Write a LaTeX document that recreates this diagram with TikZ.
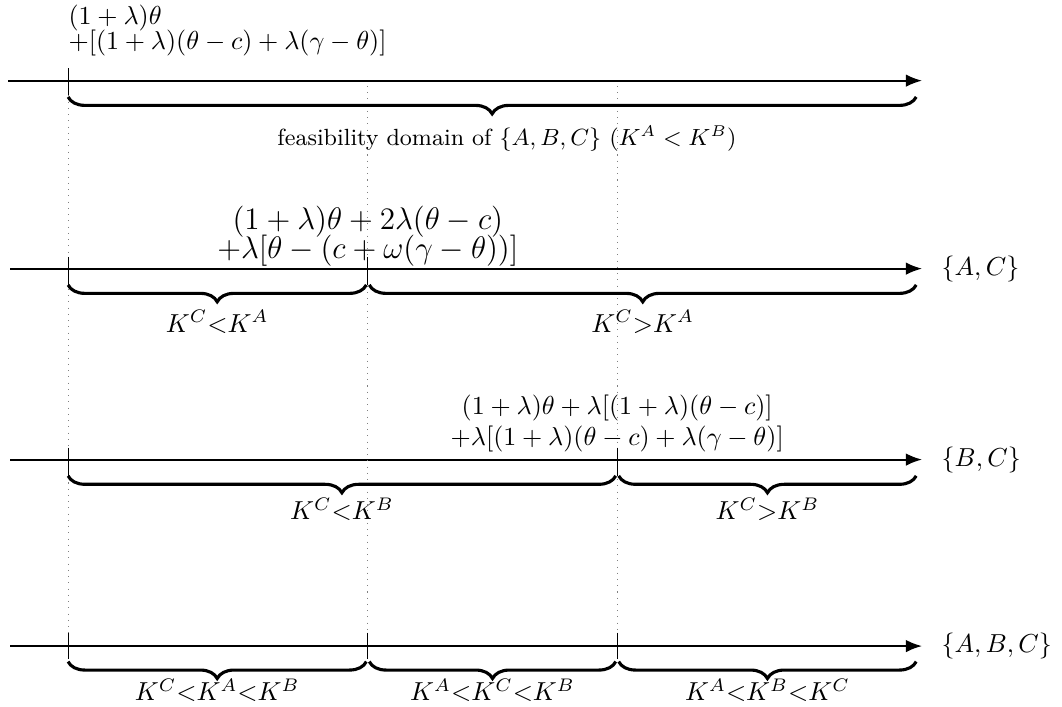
\documentclass[tikz,border=0pt]{standalone}
\usetikzlibrary{arrows.meta,decorations.pathreplacing,positioning,calc}

\begin{document}
\begin{tikzpicture}[
    axisline/.style={thick, -{Latex[length=2.2mm,width=1.7mm]}},
    tickmark/.style={thin},
    guide/.style={dotted, gray},
    bracedeco/.style={decorate, decoration={brace, mirror, amplitude=6.5pt}, very thick},
    bracelabel/.style={font=\normalsize},
    setlabel/.style={right=4pt, font=\normalsize},
    steplabel/.style={align=center, inner sep=0pt}
]
    \useasboundingbox (0,0) rectangle (14.35,9.54);

    % Axes
    \foreach \n/\y/\xs in {1/8.45/0.11, 2/5.91/0.14, 3/3.33/0.14, 4/0.81/0.14} {
        \coordinate (s\n) at (\xs,\y);
        \coordinate (e\n) at (12.46,\y);
        \draw[axisline] (s\n) -- (e\n);
    }

    % Dotted guides
    \draw[guide] (0.92,8.25) -- (0.92,0.98);
    \draw[guide] (4.97,8.38) -- (4.97,0.98);
    \draw[guide] (8.34,8.38) -- (8.34,0.98);

    % Ticks
    \draw[tickmark] (0.92,8.62) -- (0.92,8.25);
    \foreach \x in {0.92,4.97} \draw[tickmark] (\x,6.07) -- (\x,5.69);
    \foreach \x in {0.92,8.34} \draw[tickmark] (\x,3.49) -- (\x,3.11);
    \foreach \x in {0.92,4.97,8.34} \draw[tickmark] (\x,0.99) -- (\x,0.63);

    % Row 1: feasibility domain
    \node[steplabel, align=left, anchor=south west, font=\normalsize] (t1) at (0.92,8.78)
        {$(1+\lambda)\theta$\\[-2.5pt]$+[(1+\lambda)(\theta-c)+\lambda(\gamma-\theta)]$};
    \draw[bracedeco] (0.92,8.23) -- (12.38,8.23)
        node[midway, below=7pt, xshift=0.2cm, font=\small] (b1) {feasibility domain of $\{A,B,C\}$ ($K^A<K^B$)};

    % Row 2: {A,C}
    \node[setlabel] (l2) at (e2) {$\{A,C\}$};
    \node[steplabel, anchor=south, font=\fontsize{11.5}{13.8}\selectfont] (t2) at (4.97,5.93)
        {$(1+\lambda)\theta+2\lambda(\theta-c)$\\[-2.5pt]$+\lambda[\theta-(c+\omega(\gamma-\theta))]$};
    \draw[bracedeco] (0.92,5.69) -- (4.95,5.69)
        node[midway, below=5.8pt, bracelabel] (b21) {$K^C{<}K^A$};
    \draw[bracedeco] (4.99,5.69) -- (12.38,5.69)
        node[midway, below=5.8pt, bracelabel] (b22) {$K^C{>}K^A$};

    % Row 3: {B,C}
    \node[setlabel] (l3) at (e3) {$\{B,C\}$};
    \node[steplabel, anchor=south, font=\fontsize{10.3}{12.4}\selectfont] (t3) at (8.34,3.43)
        {$(1+\lambda)\theta+\lambda[(1+\lambda)(\theta-c)]$\\[-0.5pt]$+\lambda[(1+\lambda)(\theta-c)+\lambda(\gamma-\theta)]$};
    \draw[bracedeco] (0.92,3.11) -- (8.32,3.11)
        node[midway, below=4.6pt, bracelabel] (b31) {$K^C{<}K^B$};
    \draw[bracedeco] (8.36,3.11) -- (12.38,3.11)
        node[midway, below=4.6pt, bracelabel] (b32) {$K^C{>}K^B$};

    % Row 4: {A,B,C}
    \node[setlabel] (l4) at (e4) {$\{A,B,C\}$};
    \draw[bracedeco] (0.92,0.6) -- (4.95,0.6)
        node[midway, below=2.7pt, bracelabel] (b41) {$K^C{<}K^A{<}K^B$};
    \draw[bracedeco] (4.99,0.6) -- (8.32,0.6)
        node[midway, below=2.7pt, bracelabel] (b42) {$K^A{<}K^C{<}K^B$};
    \draw[bracedeco] (8.36,0.6) -- (12.38,0.6)
        node[midway, below=2.7pt, bracelabel] (b43) {$K^A{<}K^B{<}K^C$};
\end{tikzpicture}
\end{document}
